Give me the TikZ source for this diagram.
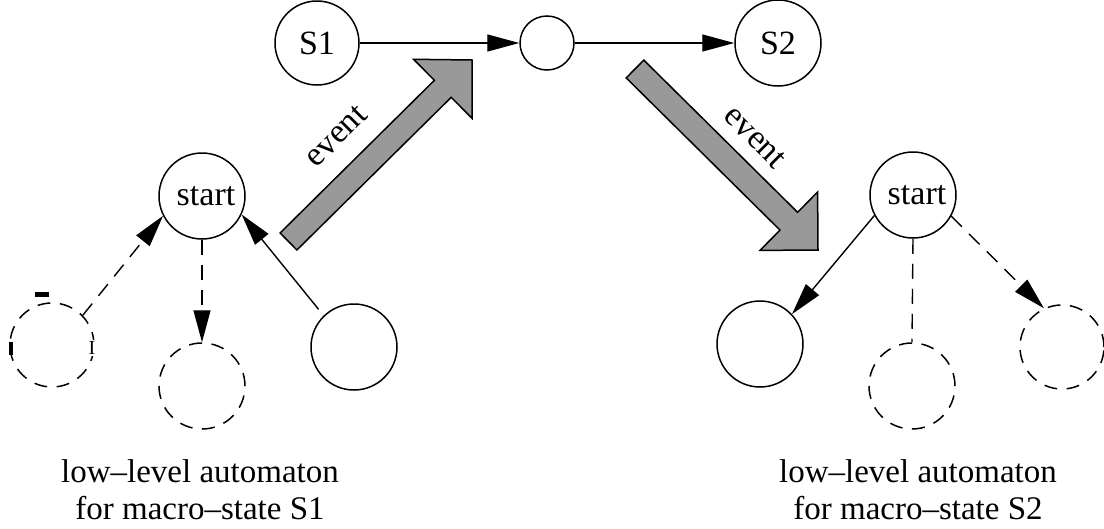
\documentclass[tikz,border=0pt]{standalone}
\usepackage{fontspec}
\setmainfont{Liberation Serif}
\usetikzlibrary{arrows.meta}
\begin{document}
\begin{tikzpicture}[x=1pt,y=-1pt,
  every node/.style={font=\fontsize{34}{40}\selectfont},
  state/.style={circle,draw,line width=1.5pt,minimum size=86pt,inner sep=0pt},
  ghost/.style={state,dash pattern=on 13pt off 9.5pt},
  tipped/.style={-{Triangle[length=32pt,width=17pt]}},
  edge/.style={line width=1.4pt},
  dashedge/.style={edge,dash pattern=on 15pt off 10pt},
  bigarrow/.style={draw,line width=1.5pt,fill=black!40,line join=miter},
  caption/.style={anchor=base,inner sep=0pt,font=\fontsize{33}{37}\selectfont},
  startlabel/.style={label={[xshift=4pt]center:start}}
]
\useasboundingbox (0,0) rectangle (1104,528);

% macro-level automaton
\node[state,minimum size=84pt] (S1) at (317,43) {S1};
\node[state,minimum size=54pt] (mid) at (547,43) {};
\node[state] (S2) at (778,43) {S2};
\draw[edge,tipped] (S1) -- (mid);
\draw[edge,tipped] (mid) -- (S2);

% event arrows
\draw[bigarrow] (296.9,250.0) -- (451.2,97.3) -- (472.0,118.3) -- (472,60)
  -- (413.6,59.3) -- (434.4,80.3) -- (280.1,233.0) -- cycle;
\draw[bigarrow] (626.2,77.9) -- (780.0,230.1) -- (760.0,250.4) -- (818,250)
  -- (817.6,192.0) -- (797.6,212.3) -- (643.8,60.1) -- cycle;
\node[rotate=45] (evL) at (336,136) {event};
\node[rotate=-45] (evR) at (755,137) {event};

% low-level automaton for S1
\node[state,startlabel] (startL) at (202,196) {};
\node[ghost,minimum size=84pt] (dL1) at (52,345) {};
\node[ghost] (dL2) at (202,386) {};
\node[state] (sL) at (354,347) {};
\draw[dashedge,tipped] (dL1.44) -- (startL.207);
\draw[dashedge,tipped] (startL.south) -- (dL2.north);
\draw[edge,tipped,shorten <=8pt] (sL.134) -- (startL.335);
\fill (35,292) rectangle (49,297);
\fill (9,342) rectangle (13,355);
\node[font=\fontsize{20}{20}\selectfont,fill=white,inner sep=1pt] (mark) at (92,348) {I};

% low-level automaton for S2
\node[state,startlabel] (startR) at (913,195) {};
\node[state] (sR) at (760,344) {};
\node[ghost] (dR2) at (912,386) {};
\node[ghost,minimum size=84pt] (dR3) at (1062,347) {};
\draw[edge,tipped] (startR.208) -- (sR.43);
\draw[dashedge] (startR.south) -- (dR2.north);
\draw[dashedge,tipped] (startR.331) -- (dR3.115);

% captions
\node[caption] (capL1) at (200,482) {low--level automaton};
\node[caption] (capL2) at (200,519) {for macro--state S1};
\node[caption] (capR1) at (918,482) {low--level automaton};
\node[caption] (capR2) at (918,519) {for macro--state S2};
\end{tikzpicture}
\end{document}
